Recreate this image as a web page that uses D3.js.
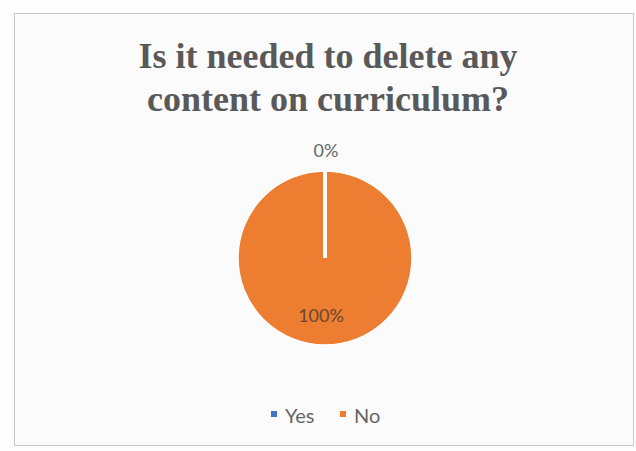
<!DOCTYPE html>
<html><head><meta charset="utf-8">
<script src="https://cdn.jsdelivr.net/npm/d3@7"></script>
<style>body{margin:0;background:#fff}</style>
</head><body>
<script>
const categories = ["Yes", "No"];
const values = [0, 100];
const labels = ["0%", "100%"];
const colors = ["#4472C4", "#ED7D31"];
const titleLines = ["Is it needed to delete any", "content on curriculum?"];

const W = 636, H = 451;
const svg = d3.select("body").append("svg").attr("width", W).attr("height", H);
svg.append("rect").attr("x", 0).attr("y", 0).attr("width", W).attr("height", H).attr("fill", "#fdfdfd");
svg.append("rect").attr("x", 14.5).attr("y", 13.5).attr("width", 619).attr("height", 432)
  .attr("fill", "#fbfbfb").attr("stroke", "#c8c8c8").attr("stroke-width", 1);

svg.selectAll("text.title").data(titleLines).enter().append("text")
  .attr("class", "title")
  .attr("x", 328).attr("y", (d, i) => 68 + i * 43)
  .attr("text-anchor", "middle")
  .attr("font-family", "Liberation Serif, Times New Roman, serif")
  .attr("font-weight", "bold").attr("font-size", 36).attr("fill", "#595959")
  .text(d => d);

const cx = 325, cy = 258, r = 87;
const pie = d3.pie().sort(null).value(d => d);
const arcs = pie(values);
const arc = d3.arc().innerRadius(0).outerRadius(r);
const g = svg.append("g").attr("transform", `translate(${cx},${cy})`);
g.selectAll("path").data(arcs).enter().append("path")
  .attr("d", arc).attr("fill", (d, i) => colors[i])
  .attr("stroke", "#fff").attr("stroke-width", 1.5);

// slice boundaries (radial separators)
g.selectAll("line.sep").data(arcs).enter().append("line")
  .attr("class", "sep")
  .attr("x1", 0).attr("y1", 0)
  .attr("x2", d => (r + 1) * Math.sin(d.startAngle))
  .attr("y2", d => -(r + 1) * Math.cos(d.startAngle))
  .attr("stroke", "#fff").attr("stroke-width", 4);

// labels
g.append("text").attr("x", 1).attr("y", -r - 14).attr("text-anchor", "middle")
  .attr("font-family", "Lato, Open Sans, sans-serif").attr("font-size", 18).attr("fill", "#666")
  .text(labels[0]);
g.append("text").attr("x", -4).attr("y", 64).attr("text-anchor", "middle")
  .attr("font-family", "Lato, Open Sans, sans-serif").attr("font-size", 18).attr("fill", "#6a4730")
  .text(labels[1]);

// legend
const legendX = [271, 340];
const lg = svg.append("g");
categories.forEach((c, i) => {
  lg.append("rect").attr("x", legendX[i]).attr("y", 411).attr("width", 6).attr("height", 6).attr("fill", colors[i]);
  lg.append("text").attr("x", legendX[i] + 14).attr("y", 423)
    .attr("font-family", "Lato, Open Sans, sans-serif").attr("font-size", 20).attr("fill", "#666")
    .text(c);
});
</script>
</body></html>
